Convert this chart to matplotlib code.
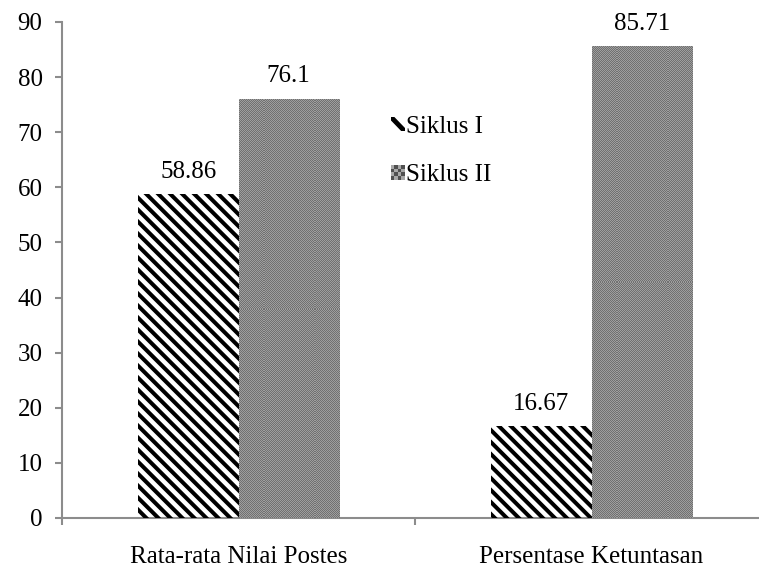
import numpy as np
import matplotlib
matplotlib.use("Agg")
import matplotlib.pyplot as plt
from matplotlib.collections import LineCollection
from matplotlib.patches import Patch, Rectangle
from matplotlib.lines import Line2D
from matplotlib.legend_handler import HandlerBase
from matplotlib.transforms import IdentityTransform

# Data
categories = ["Rata-rata Nilai Postes", "Persentase Ketuntasan"]
series_names = ["Siklus I", "Siklus II"]
siklus_1 = [58.86, 16.67]
siklus_2 = [76.1, 85.71]
y_ticks = [0, 10, 20, 30, 40, 50, 60, 70, 80, 90]

plt.rcParams["font.family"] = ["Liberation Serif", "DejaVu Serif"]
plt.rcParams["font.size"] = 18

W, H, DPI = 759, 574, 100
fig = plt.figure(figsize=(W / DPI, H / DPI), dpi=DPI)
ax = fig.add_axes([62 / W, 56 / H, (W - 62) / W, 496 / H])

x = np.arange(len(categories))
bw = 0.284
b1 = ax.bar(x - bw / 2, siklus_1, bw, facecolor="white", edgecolor="black", linewidth=0, zorder=2)
b2 = ax.bar(x + bw / 2, siklus_2, bw, facecolor="#868686", linewidth=0, zorder=2)

XLIM = (-0.5, 0.5 + (W - 415.5) / 352.5)
ax.set_ylim(0, 90)
ax.set_xlim(*XLIM)
ax.set_yticks(y_ticks)
ax.set_xticks(x)
ax.set_xticklabels(categories)
ax.set_xticks([-0.5, 0.5, 1.5], minor=True)

gray = "#8c8c8c"
for s in ("top", "right"):
    ax.spines[s].set_visible(False)
for s in ("left", "bottom"):
    ax.spines[s].set_color(gray)
    ax.spines[s].set_linewidth(1.5)
ax.tick_params(axis="y", direction="out", length=5, width=1.5, color=gray, pad=9)
ax.tick_params(axis="x", which="major", length=0, pad=20)
ax.tick_params(axis="x", which="minor", direction="out", length=5, width=1.5, color=gray)

# Diagonal stripe fill for Siklus I, drawn in pixel space and clipped to each bar
period = 12.0
for rect in b1.patches:
    (x0, y0), (x1, y1) = ax.transData.transform([[rect.get_x(), 0],
                                                 [rect.get_x() + rect.get_width(), rect.get_height()]])
    segs = []
    span = (y1 - y0) + (x1 - x0)
    for c in np.arange(-span, span, period):
        xa, xb = x0 - 20, x1 + 20
        segs.append([(xa, y1 + c - (xa - x0)), (xb, y1 + c - (xb - x0))])
    lc = LineCollection(segs, colors="black", linewidths=2.9, transform=IdentityTransform(), zorder=3)
    ax.add_collection(lc)
    lc.set_clip_path(rect)

# Fine checker texture for Siklus II
for rect in b2.patches:
    (x0, y0), (x1, y1) = ax.transData.transform([[rect.get_x(), 0],
                                                 [rect.get_x() + rect.get_width(), rect.get_height()]])
    nw, nh = int(round(x1 - x0)), int(round(y1 - y0))
    ii, jj = np.indices((nh, nw))
    tex = np.where((ii + jj) % 2 == 0, 0.44, 0.62)
    im = ax.imshow(tex, cmap="gray", vmin=0, vmax=1, interpolation="nearest",
                   extent=(rect.get_x(), rect.get_x() + rect.get_width(), 0, rect.get_height()),
                   aspect="auto", zorder=3)
    im.set_clip_path(rect)
ax.set_xlim(*XLIM)
ax.set_ylim(0, 90)

ax.bar_label(b1, labels=[f"{v:g}" for v in siklus_1], padding=8, fontsize=18)
ax.bar_label(b2, labels=[f"{v:g}" for v in siklus_2], padding=8, fontsize=18)


class StripeKey(HandlerBase):
    """Small white square crossed by one bold diagonal stripe."""

    def create_artists(self, legend, orig_handle, xdescent, ydescent, width, height, fontsize, trans):
        box = Rectangle((-xdescent, -ydescent), width, height, facecolor="white",
                        linewidth=0, transform=trans)
        line = Line2D([-xdescent, -xdescent + width], [-ydescent + height, -ydescent],
                      color="black", linewidth=3.5, solid_capstyle="butt", transform=trans)
        line.set_clip_path(box)
        return [box, line]


class CheckerKey(HandlerBase):
    """Small grey square with a dotted checker texture."""

    def create_artists(self, legend, orig_handle, xdescent, ydescent, width, height, fontsize, trans):
        arts = [Rectangle((-xdescent, -ydescent), width, height, facecolor="#a8a8a8",
                          linewidth=0, transform=trans)]
        n = 4
        cw, ch = width / n, height / n
        for i in range(n):
            for j in range(n):
                if (i + j) % 2 == 0:
                    arts.append(Rectangle((-xdescent + i * cw, -ydescent + j * ch), cw, ch,
                                          facecolor="#505050", linewidth=0, transform=trans))
        return arts


key1 = Patch(facecolor="white")
key2 = Patch(facecolor="#888888")
leg = fig.legend([key1, key2], series_names, loc="upper left", bbox_to_anchor=(381 / W, 1 - 106 / H),
                 frameon=False, handlelength=0.55, handleheight=0.5, handletextpad=0.05,
                 labelspacing=1.05, fontsize=18, borderaxespad=0,
                 handler_map={key1: StripeKey(), key2: CheckerKey()})

fig.savefig("out.png", dpi=DPI)
